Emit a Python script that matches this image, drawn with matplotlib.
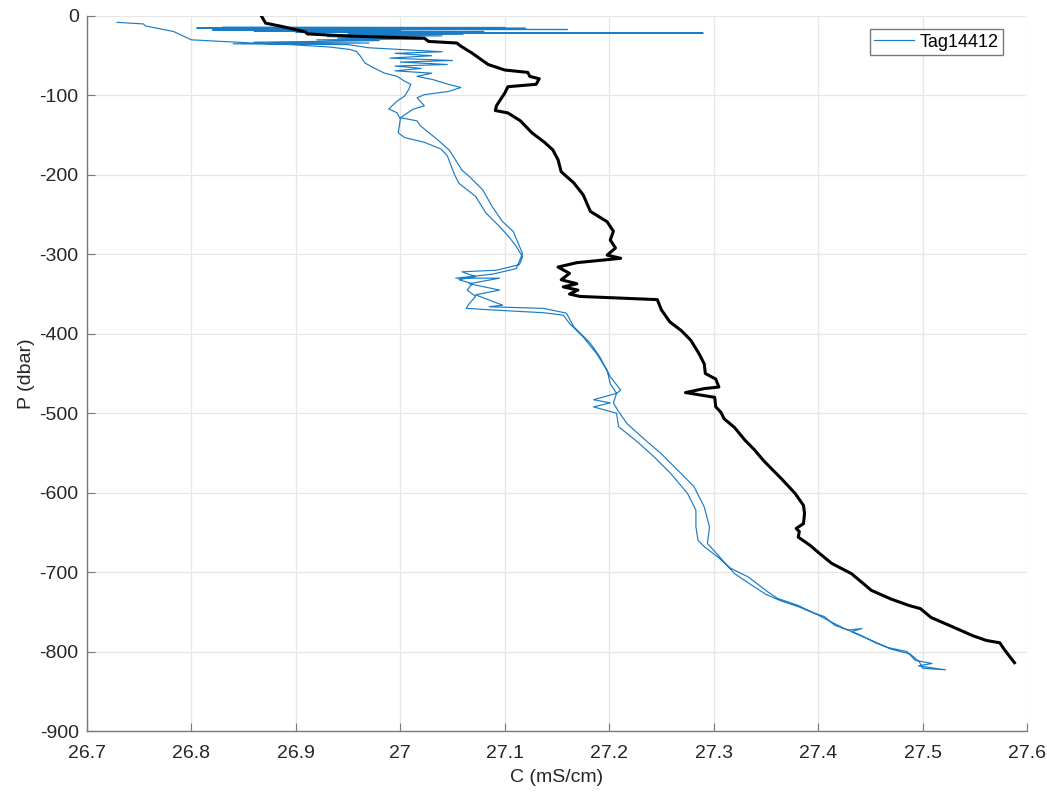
import matplotlib
matplotlib.use("Agg")
import matplotlib.pyplot as plt
from matplotlib.ticker import FuncFormatter

plt.rcParams['font.family'] = ['Liberation Sans', 'DejaVu Sans']
plt.rcParams['axes.unicode_minus'] = False

# tag profile, down cast (conductivity mS/cm, pressure dbar)
cond_down = [26.729, 26.754, 26.756, 26.783, 26.800, 26.830, 26.858, 26.894, 26.932, 26.951,
             26.958, 26.962, 26.966, 26.974, 26.985, 26.997, 27.004, 27.010, 27.008, 27.004,
             26.997, 26.989, 26.997, 27.000, 26.998, 27.004, 27.023, 27.039, 27.045, 27.052,
             27.056, 27.072, 27.082, 27.095, 27.104, 27.111, 27.117, 27.114, 27.092, 27.059,
             27.072, 27.056, 27.069, 27.064, 27.072, 27.066, 27.063, 27.088, 27.137, 27.156,
             27.162, 27.175, 27.188, 27.198, 27.201, 27.207, 27.185, 27.201, 27.185, 27.207,
             27.209, 27.227, 27.243, 27.259, 27.275, 27.283, 27.283, 27.285, 27.291, 27.304,
             27.316, 27.333, 27.352, 27.361, 27.380, 27.397, 27.406, 27.416, 27.429, 27.442,
             27.432, 27.451, 27.467, 27.485, 27.493, 27.509, 27.496, 27.522]
pres_down = [-8, -10, -12.5, -19.6, -30, -32, -34, -36, -39, -42,
             -44.6, -51, -59, -65, -72, -76, -82, -86, -92.5, -101,
             -107, -117, -122, -130, -147, -153, -159, -167.5, -176, -200,
             -210.5, -227, -248, -265, -278, -290, -303, -313, -320, -322,
             -328, -332, -337, -345, -353, -362, -368, -370, -373.5, -376.5,
             -387, -404, -425, -446, -463, -475, -483, -487, -492, -500,
             -517, -536, -555, -576, -601, -622, -643, -660, -668, -681,
             -695, -706, -725, -733, -741.5, -752, -756, -767, -773, -771,
             -775, -786, -795, -800, -811, -815, -818, -823]

# tag profile, up cast back to the surface
cond_up = [27.500, 27.497, 27.488, 27.470, 27.455, 27.440, 27.425, 27.410, 27.400, 27.382,
           27.364, 27.350, 27.336, 27.320, 27.301, 27.294, 27.296, 27.291, 27.281, 27.265,
           27.249, 27.233, 27.217, 27.209, 27.204, 27.207, 27.211, 27.201, 27.191, 27.182,
           27.166, 27.159, 27.137, 27.085, 27.098, 27.072, 27.095, 27.066, 27.095, 27.053,
           27.088, 27.111, 27.117, 27.108, 27.098, 27.088, 27.079, 27.066, 27.059, 27.047,
           27.035, 27.019, 27.016, 27.000, 27.012, 27.023, 27.016, 27.023, 27.046, 27.058,
           27.046, 27.031, 27.016, 27.030, 26.995, 27.020, 26.995, 27.045, 27.000, 27.050,
           26.990, 27.030, 26.995, 27.040, 26.970, 26.950, 26.840, 26.970, 26.860, 26.980,
           26.920, 27.020, 26.940, 27.000, 26.930, 27.040, 26.920, 27.060, 26.950, 27.290,
           26.900, 27.080, 26.860, 27.000, 26.820, 27.160, 26.840, 27.120, 26.805, 27.100,
           26.830]
pres_up = [-821, -813, -803, -797, -789, -779, -771, -761, -754, -744,
           -736, -728, -716, -702, -674, -664, -643, -618, -592, -571,
           -550, -532, -513, -498, -487, -475, -471, -454, -429, -412,
           -391, -374, -368, -366, -364, -351, -345, -337, -330, -330,
           -325, -318, -299, -271, -259, -240, -219, -202, -194, -169,
           -155, -138, -132, -128, -117.5, -113, -103, -99, -95, -90,
           -86, -80, -76, -72, -69, -66, -63, -61, -58, -56,
           -53, -50, -47, -45, -40, -36, -35, -34, -33, -31,
           -30, -29, -28, -27, -26, -25, -24, -23, -22, -21.5,
           -20.5, -19.5, -19, -18, -17.5, -17, -16, -15.5, -15, -14.5,
           -14]

# reference CTD cast (black)
cond_ctd = [26.867, 26.871, 26.886, 26.909, 26.911, 26.947, 26.970, 27.023, 27.027, 27.054,
            27.058, 27.069, 27.084, 27.100, 27.122, 27.124, 27.133, 27.130, 27.103, 27.100,
            27.096, 27.092, 27.091, 27.103, 27.115, 27.126, 27.138, 27.146, 27.151, 27.154,
            27.166, 27.175, 27.182, 27.198, 27.204, 27.201, 27.206, 27.198, 27.211, 27.169,
            27.151, 27.162, 27.154, 27.169, 27.156, 27.170, 27.162, 27.172, 27.246, 27.250,
            27.258, 27.269, 27.278, 27.286, 27.291, 27.292, 27.302, 27.305, 27.291, 27.273,
            27.301, 27.302, 27.307, 27.310, 27.320, 27.330, 27.339, 27.348, 27.357, 27.366,
            27.378, 27.386, 27.387, 27.386, 27.379, 27.382, 27.381, 27.392, 27.400, 27.413,
            27.432, 27.451, 27.470, 27.487, 27.498, 27.508, 27.529, 27.548, 27.561, 27.574,
            27.578, 27.588]
pres_ctd = [0, -9, -13, -20, -22.5, -25, -26, -28, -32, -34,
            -38, -47, -61, -68, -71, -76, -79, -86, -89, -97,
            -105, -113, -119, -122, -132, -147, -159, -168.5, -181, -196,
            -210, -225, -246, -259, -271, -282, -292, -301, -305, -310.5,
            -316, -324, -332, -337, -341, -345, -350, -353, -357, -370,
            -385, -396, -408, -425, -438, -450, -457, -467, -469, -474,
            -480, -492, -499, -507, -518, -534, -546, -560, -572, -584,
            -601, -616, -626, -639, -645, -649, -656, -666, -675, -689,
            -702, -723, -734, -742, -746, -757, -769, -780, -786, -789,
            -797, -814]

x_ticks = [26.7, 26.8, 26.9, 27.0, 27.1, 27.2, 27.3, 27.4, 27.5, 27.6]
y_ticks = [-900, -800, -700, -600, -500, -400, -300, -200, -100, 0]

fig = plt.figure(figsize=(10.47, 7.99), dpi=100)
ax = fig.add_axes([87 / 1047, 1 - 731 / 799, 940 / 1047, 715 / 799])

ax.plot(cond_down + cond_up, pres_down + pres_up, color='#1a7cc6', linewidth=0.85,
        label='Tag14412')
ax.plot(cond_ctd, pres_ctd, color='black', linewidth=2.2)

ax.set_xlim(26.7, 27.6)
ax.set_ylim(-900, 0)
ax.set_xticks(x_ticks)
ax.set_yticks(y_ticks)
ax.xaxis.set_major_formatter(FuncFormatter(lambda v, p: '%g' % round(v, 1)))
ax.yaxis.set_major_formatter(FuncFormatter(lambda v, p: '%d' % v))

ax.grid(True, color='#e6e6e6', linewidth=0.9)
ax.set_axisbelow(True)
for side in ['top', 'right']:
    ax.spines[side].set_visible(False)
for side in ['left', 'bottom']:
    ax.spines[side].set_color('#7a7a7a')
    ax.spines[side].set_linewidth(1.0)
ax.tick_params(direction='in', length=6, color='#7a7a7a', labelsize=14,
               labelcolor='#262626')
ax.tick_params(axis='x', pad=10)
ax.tick_params(axis='y', pad=6)

ax.set_xlabel('C (mS/cm)', fontsize=14, color='#262626', labelpad=5)
ax.set_ylabel('P (dbar)', fontsize=14, color='#262626', labelpad=3)

leg = ax.legend(loc='upper right', bbox_to_anchor=(1003 / 1047, 1 - 29 / 799),
                bbox_transform=fig.transFigure, borderaxespad=0, fontsize=13,
                fancybox=False, framealpha=1, handlelength=2.2, handletextpad=0.3,
                borderpad=0.25)
leg.get_frame().set_edgecolor('#7a7a7a')
leg.get_frame().set_linewidth(1.0)

fig.savefig('out.png', dpi=100)
